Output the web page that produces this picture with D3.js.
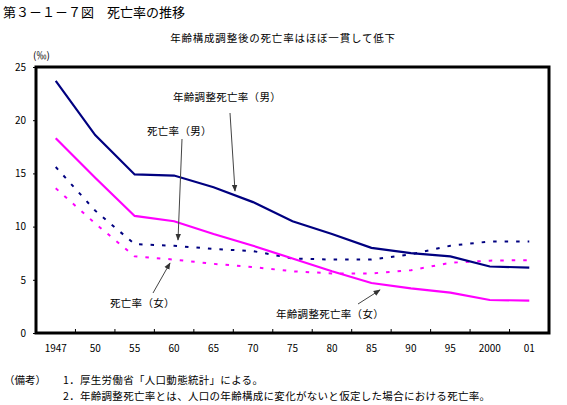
<!DOCTYPE html>
<html><head><meta charset="utf-8">
<script src="https://cdn.jsdelivr.net/npm/d3@7"></script>
<style>
body{margin:0;background:#fff;}
text{font-family:"Noto Sans CJK JP","Liberation Sans",sans-serif;}
</style></head>
<body><svg id="c" width="567" height="405"></svg>
<script>
const years = ["1947","50","55","60","65","70","75","80","85","90","95","2000","01"];
const adjMale   = [23.7,18.6,14.9,14.8,13.7,12.3,10.5,9.3,8.0,7.5,7.2,6.25,6.15];
const adjFemale = [18.3,14.6,11.0,10.5,9.3,8.2,7.0,5.8,4.7,4.2,3.8,3.1,3.05];
const crudeMale   = [15.6,11.5,8.35,8.2,7.9,7.7,7.0,6.9,6.9,7.4,8.2,8.6,8.6];
const crudeFemale = [13.6,10.3,7.2,6.9,6.5,6.2,5.8,5.6,5.6,5.9,6.6,6.8,6.85];
const yTicks = [0,5,10,15,20,25];

const svg = d3.select("#c");
const L=36, R=549, T=67, B=333;
const x = d3.scaleBand().domain(years).range([L,R]).padding(0);
const y = d3.scaleLinear().domain([0,25]).range([B,T]);
const cx = d => x(d)+x.bandwidth()/2;

// titles
svg.append("text").attr("x",3).attr("y",17).attr("font-size",13).attr("fill","#000")
  .text("第３－１－７図　死亡率の推移");
svg.append("text").attr("x",283).attr("y",42).attr("font-size",10.5).attr("text-anchor","middle")
  .attr("letter-spacing",0.8).text("年齢構成調整後の死亡率はほぼ一貫して低下");
svg.append("text").attr("x",33).attr("y",59).attr("font-size",10).text("(‰)");

// y axis
const ya = svg.append("g").attr("transform",`translate(${L},0)`)
  .call(d3.axisLeft(y).tickValues(yTicks).tickSize(3).tickPadding(7).tickFormat(d3.format("d")));
ya.select(".domain").remove();
ya.selectAll("text").attr("font-family","Liberation Sans, Arial, sans-serif").attr("font-size",10);
ya.selectAll("line").attr("stroke","#000");

// x axis labels (band centers) and ticks at band boundaries
const xa = svg.append("g").attr("transform",`translate(0,${B})`)
  .call(d3.axisBottom(x).tickSize(0).tickPadding(12));
xa.select(".domain").remove();
xa.selectAll("text").attr("font-family","Liberation Sans, Arial, sans-serif").attr("font-size",10);
svg.append("g").selectAll("line").data(years.slice(1)).join("line")
  .attr("x1",d=>x(d)).attr("x2",d=>x(d)).attr("y1",B).attr("y2",B-4)
  .attr("stroke","#000").attr("stroke-width",1);

// frame
svg.append("rect").attr("x",L).attr("y",T).attr("width",R-L).attr("height",B-T)
  .attr("fill","none").attr("stroke","#000").attr("stroke-width",3);

// lines
const line = d3.line().x((d,i)=>cx(years[i])).y(d=>y(d));
function draw(data,color,dashed){
  svg.append("path").datum(data).attr("d",line).attr("fill","none")
    .attr("stroke",color).attr("stroke-width",dashed?2:2.2)
    .attr("stroke-dasharray",dashed?"3.5,8":null);
}
draw(crudeMale,"#000080",true);
draw(crudeFemale,"#ff00ff",true);
draw(adjFemale,"#ff00ff",false);
draw(adjMale,"#000080",false);

// arrows
svg.append("defs").append("marker").attr("id","ah").attr("viewBox","0 0 10 10")
  .attr("refX",9).attr("refY",5).attr("markerWidth",7).attr("markerHeight",7)
  .attr("orient","auto-start-reverse").append("path").attr("d","M0,1 L10,5 L0,9 Z").attr("fill","#333");
function arrow(x1,y1,x2,y2){
  svg.append("line").attr("x1",x1).attr("y1",y1).attr("x2",x2).attr("y2",y2)
    .attr("stroke","#444").attr("stroke-width",1).attr("marker-end","url(#ah)");
}
function label(t,xx,yy){
  svg.append("text").attr("x",xx).attr("y",yy).attr("font-size",10.5).attr("letter-spacing",0.3).text(t);
}
label("年齢調整死亡率（男）",173,101);
arrow(230,113,235,191);
label("死亡率（男）",147,135);
arrow(182,139,178,240);
label("死亡率（女）",110,307);
arrow(153,293,170,263);
label("年齢調整死亡率（女）",276,318);
arrow(358,304,380,290);

// notes
const notes = svg.append("g").attr("font-size",10.5);
notes.append("text").attr("x",4).attr("y",384).text("（備考）");
notes.append("text").attr("x",63).attr("y",384).attr("letter-spacing",0.3).text("1．厚生労働省「人口動態統計」による。");
notes.append("text").attr("x",63).attr("y",400).attr("letter-spacing",0.3).text("2．年齢調整死亡率とは、人口の年齢構成に変化がないと仮定した場合における死亡率。");
</script></body></html>
